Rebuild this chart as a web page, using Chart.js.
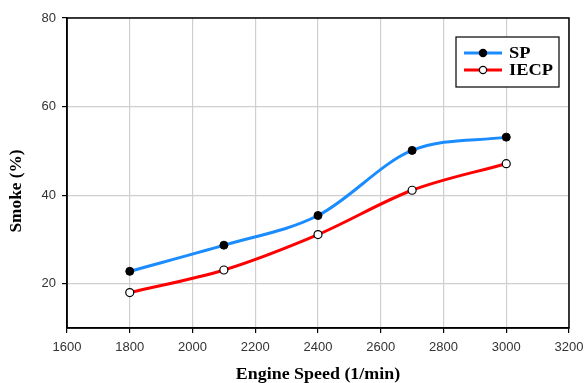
<!DOCTYPE html>
<html>
<head>
<meta charset="utf-8">
<script src="https://cdn.jsdelivr.net/npm/chart.js@4.4.0/dist/chart.umd.min.js"></script>
<style>
  html, body { margin: 0; padding: 0; background: #fff; }
  #wrap { width: 585px; height: 383px; }
</style>
</head>
<body>
<div id="wrap"><canvas id="smokeChart" width="585" height="383"></canvas></div>
<script>
// data
const engineSpeed = [1800, 2100, 2400, 2700, 3000];
const smokeSP = [22.8, 28.7, 35.4, 50.1, 53.1];
const smokeIECP = [18.0, 23.1, 31.1, 41.1, 47.1];
const seriesNames = ['SP', 'IECP'];
const yTickValues = [20, 40, 60, 80];
const xTitle = 'Engine Speed (1/min)';
const yTitle = 'Smoke (%)';

const serifBold = 'bold 16px "Liberation Serif", "Times New Roman", serif';
const tickFont = { family: '"Liberation Sans", Arial, sans-serif', size: 13 };

function toPoints(ys) {
  return engineSpeed.map((x, i) => ({ x: x, y: ys[i] }));
}

// text slightly stretched sideways, like the reference
function stretchedText(ctx, text, x, y, sx, align) {
  ctx.save();
  ctx.translate(x, y);
  ctx.scale(sx, 1);
  ctx.textAlign = align;
  ctx.fillText(text, 0, 0);
  ctx.restore();
}

/**
 * Frame, legend and axis titles
 */
const decorPlugin = {
  id: 'decor',
  afterDraw(chart) {
    const ctx = chart.ctx;
    const area = chart.chartArea;

    // full black frame round the plot
    ctx.save();
    ctx.strokeStyle = '#000';
    ctx.lineWidth = 1.5;
    ctx.strokeRect(area.left, area.top, area.right - area.left, area.bottom - area.top);

    // legend box
    const bx = 456, by = 37, bw = 103, bh = 50;
    ctx.fillStyle = '#fff';
    ctx.fillRect(bx, by, bw, bh);
    ctx.lineWidth = 1.2;
    ctx.strokeRect(bx, by, bw, bh);

    const rowsY = [53, 70];
    chart.data.datasets.forEach((ds, i) => {
      const y = rowsY[i];
      ctx.strokeStyle = ds.borderColor;
      ctx.lineWidth = 3;
      ctx.beginPath();
      ctx.moveTo(464, y);
      ctx.lineTo(502, y);
      ctx.stroke();
      ctx.beginPath();
      ctx.arc(483, y, 3.6, 0, Math.PI * 2);
      ctx.fillStyle = ds.pointBackgroundColor;
      ctx.fill();
      ctx.strokeStyle = ds.pointBorderColor;
      ctx.lineWidth = 1.2;
      ctx.stroke();

      ctx.fillStyle = '#000';
      ctx.font = serifBold;
      ctx.textBaseline = 'middle';
      stretchedText(ctx, ds.label, 509, y + 1, 1.15, 'left');
    });

    // axis titles
    ctx.fillStyle = '#000';
    ctx.font = serifBold;
    ctx.textBaseline = 'middle';
    stretchedText(ctx, xTitle, (area.left + area.right) / 2, 375, 1.12, 'center');

    ctx.translate(17, 191);
    ctx.rotate(-Math.PI / 2);
    ctx.scale(1.08, 1);
    ctx.textAlign = 'center';
    ctx.fillText(yTitle, 0, 0);
    ctx.restore();
  }
};

function initializeChart() {
  const ctx = document.getElementById('smokeChart').getContext('2d');

  new Chart(ctx, {
    type: 'line',
    data: {
      datasets: [
        {
          label: seriesNames[0],
          data: toPoints(smokeSP),
          borderColor: '#1a8cff',
          borderWidth: 3,
          pointRadius: 4,
          pointBackgroundColor: '#000',
          pointBorderColor: '#000',
          pointBorderWidth: 1,
          cubicInterpolationMode: 'monotone',
          fill: false
        },
        {
          label: seriesNames[1],
          data: toPoints(smokeIECP),
          borderColor: '#ff0000',
          borderWidth: 3,
          pointRadius: 4,
          pointBackgroundColor: '#fff',
          pointBorderColor: '#000',
          pointBorderWidth: 1.2,
          cubicInterpolationMode: 'monotone',
          fill: false
        }
      ]
    },
    options: {
      responsive: false,
      animation: false,
      layout: {
        padding: { top: 18, right: 16, left: 0, bottom: 0 }
      },
      plugins: {
        legend: { display: false },
        tooltip: { enabled: false }
      },
      scales: {
        x: {
          type: 'linear',
          min: 1600,
          max: 3200,
          ticks: {
            stepSize: 200,
            color: '#333',
            padding: 7,
            maxRotation: 0,
            font: tickFont,
            callback: v => String(v)
          },
          grid: {
            color: '#cfcfcf',
            lineWidth: 1.2,
            tickLength: 5,
            tickColor: '#000'
          },
          border: { display: true, color: '#000', width: 1.5 },
          afterFit(scale) {
            scale.height = 55;
            scale.paddingRight = 0;
          }
        },
        y: {
          min: 10,
          max: 80,
          afterBuildTicks(scale) {
            scale.ticks = yTickValues.map(v => ({ value: v }));
          },
          ticks: {
            color: '#333',
            padding: 6,
            font: tickFont
          },
          grid: {
            color: '#cfcfcf',
            lineWidth: 1.2,
            tickLength: 5,
            tickColor: '#000'
          },
          border: { display: true, color: '#000', width: 1.5 },
          afterFit(scale) { scale.width = 67; }
        }
      }
    },
    plugins: [decorPlugin]
  });
}

document.addEventListener('DOMContentLoaded', initializeChart);
</script>
</body>
</html>
